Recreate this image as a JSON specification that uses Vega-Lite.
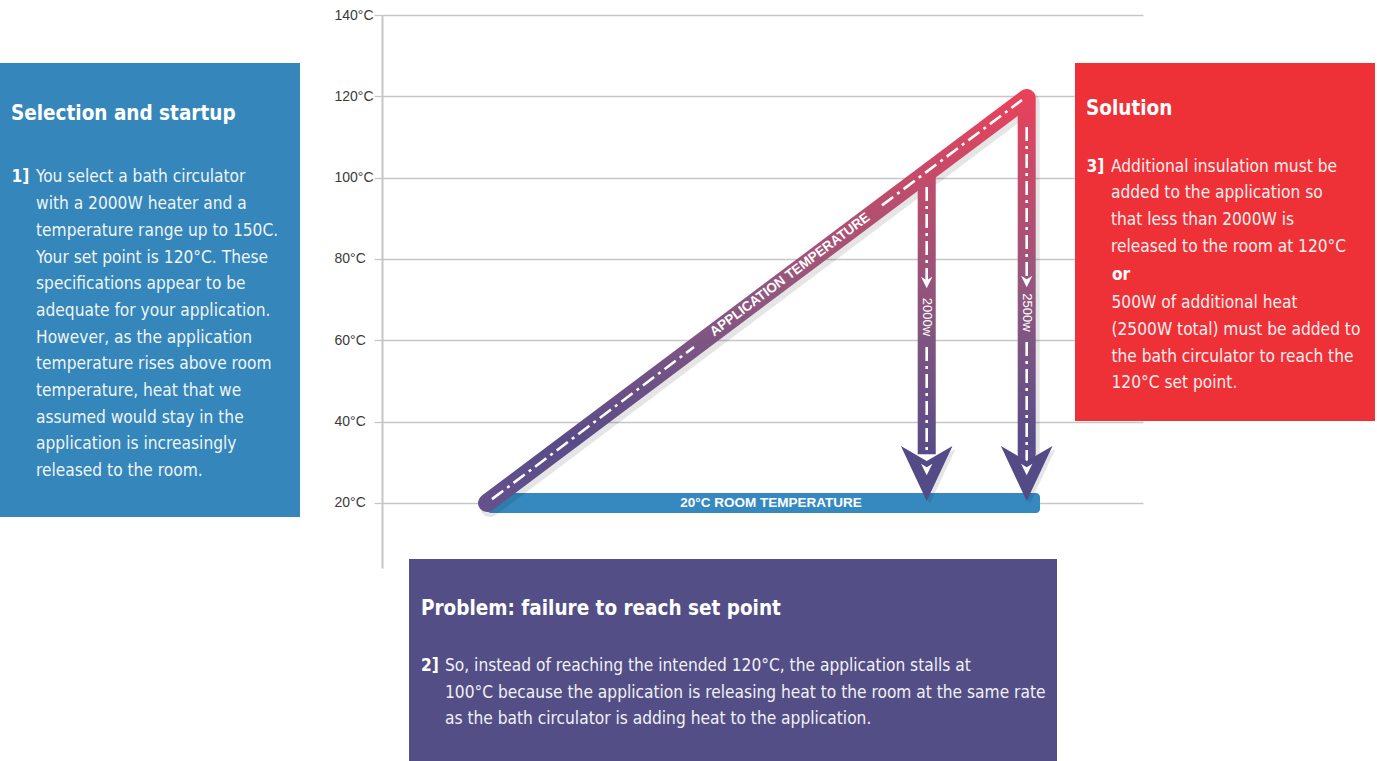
{
  "$schema": "https://vega.github.io/schema/vega-lite/v6.json",
  "width": 761,
  "height": 553,
  "autosize": {"type": "none"},
  "padding": {"left": 382, "top": 15, "right": 234, "bottom": 193},
  "background": "#ffffff",
  "config": {
    "view": {"stroke": null},
    "axisY": {"grid": true, "gridColor": "#c6c6c6", "gridWidth": 1.3,
      "domainColor": "#c6c6c6", "domainWidth": 2, "tickColor": "#c6c6c6", "tickSize": 8, "tickWidth": 1.3,
      "labelAlign": "left", "labelPadding": 40, "labelFont": "Liberation Sans", "labelFontSize": 14,
      "labelColor": "#3a3a3a", "labelExpr": "datum.value + '°C'", "labelBaseline": "middle", "labelFlush": false, "labelOverlap": false}
  },
  "datasets": {
    "boxes": [
      {"box": "blue", "x": -382, "x2": -82, "y": 128.2, "y2": 16.54},
      {"box": "red", "x": 693, "x2": 993, "y": 128.2, "y2": 40.15},
      {"box": "purple", "x": 27, "x2": 675, "y": 6.21, "y2": -43.46}
    ],
    "titles": [
      {"t": "Selection and startup", "x": -371, "y": 114.18},
      {"t": "Solution", "x": 704, "y": 115.41},
      {"t": "Problem: failure to reach set point", "x": 39, "y": -7.56}
    ],
    "bolds": [
      {"t": "1]", "x": -370.5, "y": 98.81},
      {"t": "3]", "x": 704.5, "y": 101.46},
      {"t": "or", "x": 730, "y": 74.83},
      {"t": "2]", "x": 39, "y": -21.3}
    ],
    "bodies": [
      {"t": "You select a bath circulator\nwith a 2000W heater and a\ntemperature range up to 150C.\nYour set point is 120°C. These\nspecifications appear to be\nadequate for your application.\nHowever, as the application\ntemperature rises above room\ntemperature, heat that we\nassumed would stay in the\napplication is increasingly\nreleased to the room.", "x": -346, "y": 98.81},
      {"t": "Additional insulation must be\nadded to the application so\nthat less than 2000W is\nreleased to the room at 120°C", "x": 729, "y": 101.46},
      {"t": "500W of additional heat\n(2500W total) must be added to\nthe bath circulator to reach the\n120°C set point.", "x": 729.5, "y": 67.87},
      {"t": "So, instead of reaching the intended 120°C, the application stalls at\n100°C because the application is releasing heat to the room at the same rate\nas the bath circulator is adding heat to the application.", "x": 63, "y": -21.3}
    ],
    "room": [{"x": 105, "x2": 658, "y": 22.45, "y2": 17.53}],
    "path": [
      {"o": 1, "x": 105, "y": 20},
      {"o": 2, "x": 644.7, "y": 119.6},
      {"o": 3, "x": 644.7, "y": 32}
    ],
    "bar2000": [{"x": 535.7, "x2": 553.7, "y": 101.5, "y2": 32}],
    "dashes": [
      {"seg": "a", "x": 110, "y": 20.93}, {"seg": "a", "x": 312, "y": 58.36},
      {"seg": "b", "x": 500, "y": 93.19}, {"seg": "b", "x": 640, "y": 119.1},
      {"seg": "c", "x": 644.7, "y": 112.46}, {"seg": "c", "x": 644.7, "y": 74.83},
      {"seg": "d", "x": 644.7, "y": 59.58}, {"seg": "d", "x": 644.7, "y": 29.33},
      {"seg": "e", "x": 544.7, "y": 97.7}, {"seg": "e", "x": 544.7, "y": 74.8},
      {"seg": "f", "x": 544.7, "y": 58.35}, {"seg": "f", "x": 544.7, "y": 29.33}
    ],
    "heads": [{"x": 544.7, "y": 30.32}, {"x": 644.7, "y": 30.32}],
    "smallheads": [
      {"x": 544.7, "y": 74.21}, {"x": 644.7, "y": 74.46},
      {"x": 544.7, "y": 28.22}, {"x": 644.7, "y": 28.22}
    ],
    "applabel": [{"t": "APPLICATION TEMPERATURE", "x": 408, "y": 76.14}],
    "watts": [{"t": "2000w", "x": 544.7, "y": 65.73}, {"t": "2500w", "x": 644.7, "y": 66.84}],
    "roomlabel": [{"t": "20°C ROOM TEMPERATURE", "x": 389, "y": 20}]
  },
  "layer": [
    {
      "data": {"name": "boxes"},
      "mark": {"type": "rect"},
      "encoding": {
        "x": {"field": "x", "type": "quantitative", "scale": {"domain": [0, 761], "nice": false, "zero": false}, "axis": null},
        "x2": {"field": "x2"},
        "y": {"field": "y", "type": "quantitative", "scale": {"domain": [4, 140], "nice": false, "zero": false}, "title": null, "axis": {"values": [20, 40, 60, 80, 100, 120, 140]}},
        "y2": {"field": "y2"},
        "color": {"field": "box", "type": "nominal", "scale": {"domain": ["blue", "red", "purple"], "range": ["#3586ba", "#ee3137", "#534f86"]}, "legend": null}
      }
    },
    {
      "data": {"name": "titles"},
      "mark": {"type": "text", "align": "left", "baseline": "alphabetic", "font": "'DejaVu Sans Condensed', sans-serif", "fontWeight": "bold", "fontSize": 20.5, "color": "#ffffff"},
      "encoding": {
        "x": {"field": "x", "type": "quantitative", "axis": null},
        "y": {"field": "y", "type": "quantitative", "title": null},
        "text": {"field": "t"}
      }
    },
    {
      "data": {"name": "bolds"},
      "mark": {"type": "text", "align": "left", "baseline": "alphabetic", "font": "'DejaVu Sans Condensed', sans-serif", "fontWeight": "bold", "fontSize": 17.2, "color": "#ffffff"},
      "encoding": {
        "x": {"field": "x", "type": "quantitative", "axis": null},
        "y": {"field": "y", "type": "quantitative", "title": null},
        "text": {"field": "t"}
      }
    },
    {
      "data": {"name": "bodies"},
      "mark": {"type": "text", "align": "left", "baseline": "alphabetic", "font": "'DejaVu Sans Condensed', sans-serif", "fontSize": 17.2, "lineHeight": 26.7, "lineBreak": "\n", "color": "#ffffff", "opacity": 0.92},
      "encoding": {
        "x": {"field": "x", "type": "quantitative", "axis": null},
        "y": {"field": "y", "type": "quantitative", "title": null},
        "text": {"field": "t"}
      }
    },
    {
      "data": {"name": "room"},
      "mark": {"type": "rect", "color": "#000000", "opacity": 0.12, "xOffset": 2, "yOffset": 4, "cornerRadius": 4},
      "encoding": {
        "x": {"field": "x", "type": "quantitative", "axis": null},
        "x2": {"field": "x2"},
        "y": {"field": "y", "type": "quantitative", "title": null},
        "y2": {"field": "y2"}
      }
    },
    {
      "data": {"name": "room"},
      "mark": {"type": "rect", "color": "#3589bf", "cornerRadius": 4},
      "encoding": {
        "x": {"field": "x", "type": "quantitative", "axis": null},
        "x2": {"field": "x2"},
        "y": {"field": "y", "type": "quantitative", "title": null},
        "y2": {"field": "y2"}
      }
    },
    {
      "data": {"name": "roomlabel"},
      "mark": {"type": "text", "align": "center", "baseline": "middle", "font": "Liberation Sans", "fontWeight": "bold", "fontSize": 13.5, "color": "#ffffff"},
      "encoding": {
        "x": {"field": "x", "type": "quantitative", "axis": null},
        "y": {"field": "y", "type": "quantitative", "title": null},
        "text": {"field": "t"}
      }
    },
    {
      "data": {"name": "bar2000"},
      "mark": {"type": "rect", "color": "#000000", "opacity": 0.1, "xOffset": 3, "yOffset": 3},
      "encoding": {
        "x": {"field": "x", "type": "quantitative", "axis": null},
        "x2": {"field": "x2"},
        "y": {"field": "y", "type": "quantitative", "title": null},
        "y2": {"field": "y2"}
      }
    },
    {
      "data": {"name": "path"},
      "mark": {"type": "line", "stroke": "#000000", "opacity": 0.1, "strokeWidth": 20, "strokeCap": "round", "strokeJoin": "round", "xOffset": 3, "yOffset": 4},
      "encoding": {
        "x": {"field": "x", "type": "quantitative", "axis": null},
        "y": {"field": "y", "type": "quantitative", "title": null},
        "order": {"field": "o"}
      }
    },
    {
      "data": {"name": "bar2000"},
      "mark": {"type": "rect", "fill": {"gradient": "linear", "x1": 0, "y1": 0, "x2": 0, "y2": 1, "stops": [{"offset": 0, "color": "#c44c6c"}, {"offset": 0.55, "color": "#84567f"}, {"offset": 1, "color": "#574b88"}]}},
      "encoding": {
        "x": {"field": "x", "type": "quantitative", "axis": null},
        "x2": {"field": "x2"},
        "y": {"field": "y", "type": "quantitative", "title": null},
        "y2": {"field": "y2"}
      }
    },
    {
      "data": {"name": "path"},
      "mark": {"type": "line", "strokeWidth": 18, "strokeCap": "round", "strokeJoin": "round", "stroke": {"gradient": "linear", "x1": 0, "y1": 0, "x2": 0, "y2": 1, "stops": [{"offset": 0, "color": "#e8425b"}, {"offset": 0.5, "color": "#8e5880"}, {"offset": 0.85, "color": "#584c88"}, {"offset": 1, "color": "#65508c"}]}},
      "encoding": {
        "x": {"field": "x", "type": "quantitative", "axis": null},
        "y": {"field": "y", "type": "quantitative", "title": null},
        "order": {"field": "o"}
      }
    },
    {
      "data": {"name": "dashes"},
      "mark": {"type": "line", "stroke": "#ffffff", "strokeWidth": 2.6, "strokeDash": [14, 5, 3, 5]},
      "encoding": {
        "x": {"field": "x", "type": "quantitative", "axis": null},
        "y": {"field": "y", "type": "quantitative", "title": null},
        "detail": {"field": "seg"}
      }
    },
    {
      "data": {"name": "heads"},
      "mark": {"type": "point", "filled": true, "shape": "M0,1.55 L-1,-0.58 L0,0 L1,-0.58 Z", "size": 2663, "color": "#000000", "opacity": 0.1, "xOffset": 3, "yOffset": 3},
      "encoding": {
        "x": {"field": "x", "type": "quantitative", "axis": null},
        "y": {"field": "y", "type": "quantitative", "title": null}
      }
    },
    {
      "data": {"name": "heads"},
      "mark": {"type": "point", "filled": true, "shape": "M0,1.55 L-1,-0.58 L0,0 L1,-0.58 Z", "size": 2663, "color": "#534a86", "opacity": 1},
      "encoding": {
        "x": {"field": "x", "type": "quantitative", "axis": null},
        "y": {"field": "y", "type": "quantitative", "title": null}
      }
    },
    {
      "data": {"name": "smallheads"},
      "mark": {"type": "point", "filled": true, "shape": "M0,1 L-1,-1 L0,-0.4 L1,-1 Z", "size": 130, "color": "#ffffff", "opacity": 1},
      "encoding": {
        "x": {"field": "x", "type": "quantitative", "axis": null},
        "y": {"field": "y", "type": "quantitative", "title": null}
      }
    },
    {
      "data": {"name": "applabel"},
      "mark": {"type": "text", "align": "center", "baseline": "middle", "angle": -36.9, "font": "Liberation Sans", "fontWeight": "bold", "fontSize": 13.5, "color": "#ffffff"},
      "encoding": {
        "x": {"field": "x", "type": "quantitative", "axis": null},
        "y": {"field": "y", "type": "quantitative", "title": null},
        "text": {"field": "t"}
      }
    },
    {
      "data": {"name": "watts"},
      "mark": {"type": "text", "align": "center", "baseline": "middle", "angle": 90, "font": "Liberation Sans", "fontSize": 13, "color": "#ffffff"},
      "encoding": {
        "x": {"field": "x", "type": "quantitative", "axis": null},
        "y": {"field": "y", "type": "quantitative", "title": null},
        "text": {"field": "t"}
      }
    }
  ]
}
